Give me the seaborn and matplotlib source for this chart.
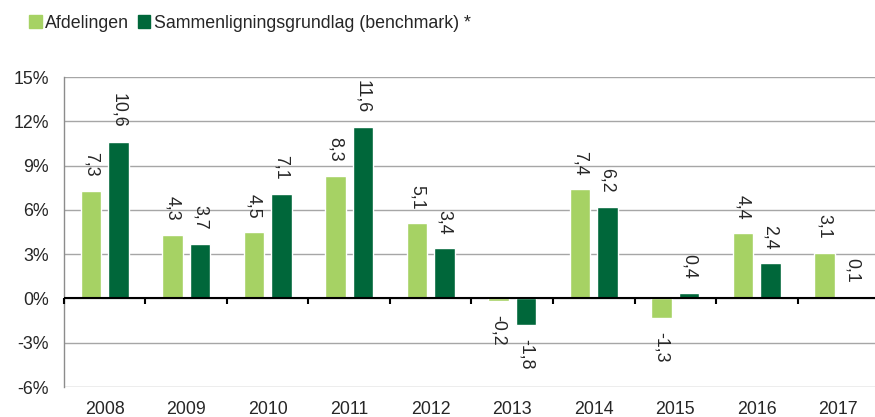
import matplotlib
matplotlib.use("Agg")
import matplotlib.pyplot as plt
import seaborn as sns
import pandas as pd
import numpy as np
from matplotlib.patches import Patch

years = ["2008", "2009", "2010", "2011", "2012", "2013", "2014", "2015", "2016", "2017"]
afdelingen = [7.3, 4.3, 4.5, 8.3, 5.1, -0.2, 7.4, -1.3, 4.4, 3.1]
benchmark = [10.6, 3.7, 7.1, 11.6, 3.4, -1.8, 6.2, 0.4, 2.4, 0.1]
series_names = ["Afdelingen", "Sammenligningsgrundlag (benchmark) *"]
y_ticks = [-6, -3, 0, 3, 6, 9, 12, 15]

light_green = "#a6d264"
dark_green = "#00673a"

sns.set_style("white")
plt.rcParams["font.family"] = ["Liberation Sans", "DejaVu Sans"]

df = pd.DataFrame({
    "År": years * 2,
    "Serie": [series_names[0]] * len(years) + [series_names[1]] * len(years),
    "Afkast": afdelingen + benchmark,
})

fig = plt.figure(figsize=(8.75, 4.17), dpi=100)
ax = fig.add_axes([0.0731, 0.0719, 0.9315, 0.7434])

sns.barplot(data=df, x="År", y="Afkast", hue="Serie", order=years,
            hue_order=series_names, palette=[light_green, dark_green],
            width=0.68, gap=0.26, dodge=True, legend=False, ax=ax,
            saturation=1, errorbar=None)

ax.set_ylim(-6, 15)
ax.set_xlim(-0.5, len(years) - 0.5)
ax.set_yticks(y_ticks)
ax.set_yticklabels([f"{t}%" for t in y_ticks], fontsize=12.8)
ax.set_xlabel("")
ax.set_ylabel("")
ax.tick_params(axis="y", length=4, color="#8c8c8c", width=1, pad=7)
ax.tick_params(axis="x", length=0, labelsize=12.8, pad=10)

ax.grid(axis="y", color="#a6a6a6", linewidth=1)
ax.set_axisbelow(True)
for side in ["top", "right", "bottom"]:
    ax.spines[side].set_visible(False)
ax.spines["left"].set_color("#8c8c8c")
ax.spines["left"].set_linewidth(1)

# zero line with category separator ticks
ax.axhline(0, color="black", linewidth=1.5, zorder=3)
bounds = np.arange(len(years) + 1) - 0.5
ax.vlines(bounds, -0.35, 0, color="black", linewidth=1.5, zorder=3, clip_on=False)

# rotated value labels
for container, values in zip(ax.containers, [afdelingen, benchmark]):
    for bar, v in zip(container, values):
        x = bar.get_x() + bar.get_width() / 2
        txt = f"{v:.1f}".replace(".", ",")
        if v >= 0:
            ax.annotate(txt, (x, v), xytext=(0, 10), textcoords="offset points",
                        ha="center", va="bottom", rotation=270, fontsize=12.8)
        else:
            ax.annotate(txt, (x, v), xytext=(0, -10), textcoords="offset points",
                        ha="center", va="top", rotation=270, fontsize=12.8)

handles = [Patch(color=light_green), Patch(color=dark_green)]
fig.legend(handles, series_names, loc="upper left", bbox_to_anchor=(0.015, 1.003),
           ncol=2, frameon=False, handlelength=0.7, handleheight=0.7,
           handletextpad=0.2, columnspacing=0.5, fontsize=12.8)

fig.savefig("out.png", dpi=100)
